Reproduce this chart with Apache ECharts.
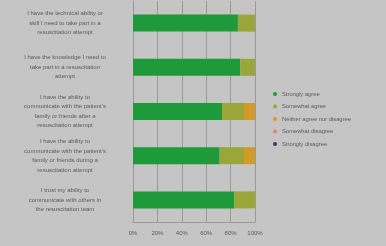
<!DOCTYPE html>
<html><head><meta charset="utf-8">
<script src="https://cdn.jsdelivr.net/npm/echarts@6/dist/echarts.min.js"></script>
<style>html,body{margin:0;padding:0;background:#c6c6c6;}#c{width:386px;height:246px;}</style>
</head><body><div id="c"></div>
<script>
const categories = [
  "I have the technical ability or\nskill I need to take part in a\nresuscitation attempt",
  "I have the knowledge I need to\ntake part in a resuscitation\nattempt",
  "I have the ability to\ncommunicate with the patient's\nfamily or friends after a\nresuscitation attempt",
  "I have the ability to\ncommunicate with the patient's\nfamily or friends during a\nresuscitation attempt",
  "I trust my ability to\ncommunicate with others in\nthe resuscitation team"
];
const seriesNames = ["Strongly agree","Somewhat agree","Neither agree nor disagree","Somewhat disagree","Strongly disagree"];
const stronglyAgree = [86, 88, 73, 71, 83];
const somewhatAgree = [14, 12, 18, 20, 17];
const neither = [0, 0, 9, 9, 0];
const somewhatDisagree = [0, 0, 0, 0, 0];
const stronglyDisagree = [0, 0, 0, 0, 0];
const xTicks = [0, 20, 40, 60, 80, 100];

const colors = ['#1e9a3a', '#9aa63a', '#d29a26', '#d98a6a', '#3a3a5a'];
const values = [stronglyAgree, somewhatAgree, neither, somewhatDisagree, stronglyDisagree];
const chart = echarts.init(document.getElementById('c'));
chart.setOption({
  backgroundColor: '#c5c5c5',
  animation: false,
  grid: {left: 133, right: 131, top: 1, bottom: 24, containLabel: false},
  xAxis: {
    type: 'value', min: xTicks[0], max: xTicks[xTicks.length-1], interval: 20,
    axisLabel: {formatter: v => v.toFixed(0) + '%', fontSize: 6, color: '#5a5a5a', margin: 8, fontFamily: 'Liberation Sans'},
    splitLine: {show: true, lineStyle: {color: '#999', width: 1}},
    axisLine: {show: true, lineStyle: {color: '#999'}},
    axisTick: {show: false}
  },
  yAxis: {
    type: 'category', data: categories, inverse: true,
    axisLabel: {fontSize: 6, lineHeight: 9.5, color: '#5a5a5a', align: 'center', margin: 68, fontFamily: 'Liberation Sans'},
    axisLine: {show: true, lineStyle: {color: '#999'}},
    axisTick: {show: false}
  },
  legend: {
    orient: 'vertical', left: 268, top: 86, itemWidth: 4, itemHeight: 4, itemGap: 6.5,
    icon: 'circle',
    textStyle: {fontSize: 5.8, color: '#5a5a5a', fontFamily: 'Liberation Sans'},
    data: seriesNames
  },
  series: seriesNames.map((n, i) => ({
    name: n, type: 'bar', stack: 'a', barWidth: 17,
    itemStyle: {color: colors[i]},
    data: values[i]
  }))
});
</script></body></html>
